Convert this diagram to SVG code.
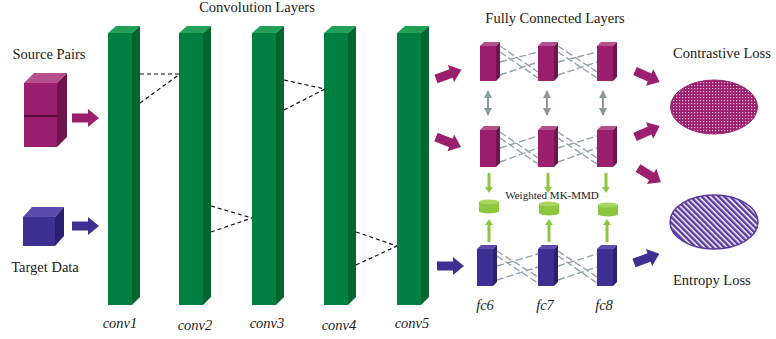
<svg xmlns="http://www.w3.org/2000/svg" xmlns:xlink="http://www.w3.org/1999/xlink" width="776" height="339" viewBox="0 0 776 339">
<style>
text{font-family:"Liberation Serif","Times New Roman",serif;fill:#1a1a1a}
.lbl{font-size:14.5px}
.it{font-style:italic;font-size:14.5px}
.gf{fill:#008040}.gs{fill:#00662f}.gt{fill:#22a055}
.mf{fill:#9b1f6e}.ms{fill:#6e1550}.mt{fill:#b5508f}
.bf{fill:#3e2f92}.bs{fill:#2b2070}.bt{fill:#5b4cae}
.cd{stroke:#111;stroke-width:1.2;stroke-dasharray:4 3;fill:none}
.fd{stroke:#93a3a8;stroke-width:1.4;stroke-dasharray:7 3;fill:none}
.ga{stroke:#8a9aa0;stroke-width:2;marker-start:url(#gh);marker-end:url(#gh)}
.lg{fill:#8dc63f}
</style>
<defs>
<path id="barr" d="M0,-4.5 H16 V-9 L27,0 L16,9 V4.5 H0 Z"/>
<marker id="gh" viewBox="0 0 8 8" refX="7" refY="4" markerWidth="4" markerHeight="4" orient="auto-start-reverse"><path d="M0,0 L8,4 L0,8 Z" fill="#8a9aa0"/></marker>
<pattern id="dots" width="3" height="3" patternUnits="userSpaceOnUse"><rect width="3" height="3" fill="#9b1f6e"/><rect x="1" y="1" width="1.2" height="1.2" fill="#e9bdd6"/></pattern>
<pattern id="stripes" width="4" height="4" patternUnits="userSpaceOnUse" patternTransform="rotate(-45)"><rect width="4" height="4" fill="#fff"/><rect width="2.5" height="4" fill="#5a3aa0"/></pattern>
</defs>

<text class="lbl" x="257" y="12" text-anchor="middle">Convolution Layers</text>
<text class="lbl" x="555" y="23" text-anchor="middle">Fully Connected Layers</text>

<g id="source-pairs">
<text class="lbl" x="49" y="59" text-anchor="middle">Source Pairs</text>
<polygon class="mt" points="24,83 34,73 67,73 57,83"/>
<polygon class="ms" points="57,83 67,73 67,137 57,147"/>
<rect class="mf" x="24" y="83" width="33" height="64"/>
<line x1="24" y1="116" x2="57" y2="116" stroke="#3a0a28" stroke-width="1.5"/>
</g>
<g id="target-data">
<polygon class="bt" points="23,217 32,207 64,207 55,217"/>
<polygon class="bs" points="55,217 64,207 64,236 55,246"/>
<rect class="bf" x="23" y="217" width="32" height="29"/>
<text class="lbl" x="45" y="272" text-anchor="middle">Target Data</text>
</g>

<g id="conv1">
<polygon class="gt" points="108,33 116,26 140,26 132,33"/><polygon class="gs" points="132,33 140,26 140,297 132,305"/><rect class="gf" x="108" y="33" width="24" height="272"/>
<text class="it" x="120" y="328" text-anchor="middle">conv1</text></g>
<g id="conv2">
<polygon class="gt" points="179,33 187,26 211,26 203,33"/><polygon class="gs" points="203,33 211,26 211,297 203,305"/><rect class="gf" x="179" y="33" width="24" height="272"/>
<text class="it" x="195" y="330" text-anchor="middle">conv2</text></g>
<g id="conv3">
<polygon class="gt" points="252,33 260,26 284,26 276,33"/><polygon class="gs" points="276,33 284,26 284,297 276,305"/><rect class="gf" x="252" y="33" width="24" height="272"/>
<text class="it" x="267" y="328" text-anchor="middle">conv3</text></g>
<g id="conv4">
<polygon class="gt" points="324,33 332,26 356,26 348,33"/><polygon class="gs" points="348,33 356,26 356,297 348,305"/><rect class="gf" x="324" y="33" width="24" height="272"/>
<text class="it" x="339" y="330" text-anchor="middle">conv4</text></g>
<g id="conv5">
<polygon class="gt" points="397,33 405,26 429,26 421,33"/><polygon class="gs" points="421,33 429,26 429,297 421,305"/><rect class="gf" x="397" y="33" width="24" height="272"/>
<text class="it" x="412" y="328" text-anchor="middle">conv5</text></g>

<g id="fc-source-a">
<polygon class="mt" points="480,46 484,42 500,42 496,46"/><polygon class="ms" points="496,46 500,42 500,77 496,81"/><rect class="mf" x="480" y="46" width="16" height="35"/>
<polygon class="mt" points="538,46 542,42 558,42 554,46"/><polygon class="ms" points="554,46 558,42 558,77 554,81"/><rect class="mf" x="538" y="46" width="16" height="35"/>
<polygon class="mt" points="597,46 601,42 617,42 613,46"/><polygon class="ms" points="613,46 617,42 617,77 613,81"/><rect class="mf" x="597" y="46" width="16" height="35"/>
</g>
<g id="fc-source-b">
<polygon class="mt" points="480,130 484,126 500,126 496,130"/><polygon class="ms" points="496,130 500,126 500,163 496,167"/><rect class="mf" x="480" y="130" width="16" height="37"/>
<polygon class="mt" points="538,130 542,126 558,126 554,130"/><polygon class="ms" points="554,130 558,126 558,163 554,167"/><rect class="mf" x="538" y="130" width="16" height="37"/>
<polygon class="mt" points="597,130 601,126 617,126 613,130"/><polygon class="ms" points="613,130 617,126 617,163 613,167"/><rect class="mf" x="597" y="130" width="16" height="37"/>
</g>
<g id="fc-target">
<polygon class="bt" points="477,249 481,245 497,245 493,249"/><polygon class="bs" points="493,249 497,245 497,282 493,286"/><rect class="bf" x="477" y="249" width="16" height="37"/>
<polygon class="bt" points="538,249 542,245 558,245 554,249"/><polygon class="bs" points="554,249 558,245 558,282 554,286"/><rect class="bf" x="538" y="249" width="16" height="37"/>
<polygon class="bt" points="597,249 601,245 617,245 613,249"/><polygon class="bs" points="613,249 617,245 617,282 613,286"/><rect class="bf" x="597" y="249" width="16" height="37"/>
<text class="it" x="485" y="310" text-anchor="middle">fc6</text>
<text class="it" x="545" y="310" text-anchor="middle">fc7</text>
<text class="it" x="604" y="310" text-anchor="middle">fc8</text>
</g>

<g id="mk-mmd">
<rect class="lg" x="479" y="202" width="20" height="9"/><ellipse class="lg" cx="489" cy="211" rx="10" ry="2.5"/><ellipse cx="489" cy="202" rx="10" ry="2.5" fill="#a8d65e"/>
<rect class="lg" x="539" y="204" width="20" height="9"/><ellipse class="lg" cx="549" cy="213" rx="10" ry="2.5"/><ellipse cx="549" cy="204" rx="10" ry="2.5" fill="#a8d65e"/>
<rect class="lg" x="598" y="205" width="20" height="9"/><ellipse class="lg" cx="608" cy="214" rx="10" ry="2.5"/><ellipse cx="608" cy="205" rx="10" ry="2.5" fill="#a8d65e"/>
<text x="552" y="199" text-anchor="middle" style="font-size:11px">Weighted MK-MMD</text>
</g>

<g id="contrastive-loss">
<text class="lbl" x="673" y="58">Contrastive Loss</text>
<ellipse cx="714" cy="107" rx="43.5" ry="27" fill="url(#dots)" stroke="#9b1f6e" stroke-width="1"/>
</g>
<g id="entropy-loss">
<ellipse cx="714" cy="222" rx="44" ry="27" fill="url(#stripes)" stroke="#5a3aa0" stroke-width="1.5"/>
<text class="lbl" x="673" y="285">Entropy Loss</text>
</g>

<g id="connectors">
<path class="cd" d="M140,74 L180,74 M140,103 L180,74 M211,206 L252,218 M211,232 L252,218 M284,80 L325,89 M284,110 L325,89 M356,232 L397,246 M356,265 L397,246"/>
<path class="fd" d="M500,46 L538,72 M500,62 L538,52 M500,75 L538,62 M500,52 L538,78 M558,46 L597,72 M558,62 L597,52 M558,75 L597,62 M558,52 L597,78"/>
<path class="fd" d="M500,132 L538,158 M500,148 L538,136 M500,162 L538,148 M500,138 L538,164 M558,132 L597,158 M558,148 L597,136 M558,162 L597,148 M558,138 L597,164"/>
<path class="fd" d="M497,251 L538,277 M497,266 L538,254 M497,280 L538,267 M497,256 L538,283 M558,251 L597,277 M558,266 L597,254 M558,280 L597,267 M558,256 L597,283"/>
<line class="ga" x1="488" y1="91" x2="488" y2="115"/>
<line class="ga" x1="547" y1="91" x2="547" y2="115"/>
<line class="ga" x1="603" y1="91" x2="603" y2="115"/>
<g class="lg">
<rect x="487.5" y="173" width="3" height="14"/><polygon points="485,187 493,187 489,193"/>
<rect x="546.5" y="173" width="3" height="14"/><polygon points="544,187 552,187 548,193"/>
<rect x="604.5" y="173" width="3" height="14"/><polygon points="602,187 610,187 606,193"/>
<rect x="487.5" y="225" width="3" height="17"/><polygon points="485,225 493,225 489,219"/>
<rect x="547.5" y="225" width="3" height="17"/><polygon points="545,225 553,225 549,219"/>
<rect x="605.5" y="225" width="3" height="17"/><polygon points="603,225 611,225 607,219"/>
</g>
<use href="#barr" fill="#9b1f6e" transform="translate(72,118)"/>
<use href="#barr" fill="#3e2f92" transform="translate(72,226)"/>
<use href="#barr" fill="#9b1f6e" transform="translate(436,79) rotate(-20)"/>
<use href="#barr" fill="#9b1f6e" transform="translate(436,137) rotate(22)"/>
<use href="#barr" fill="#3e2f92" transform="translate(437,266)"/>
<use href="#barr" fill="#9b1f6e" transform="translate(635,71) rotate(24)"/>
<use href="#barr" fill="#9b1f6e" transform="translate(635,137) rotate(-24)"/>
<use href="#barr" fill="#9b1f6e" transform="translate(638,168) rotate(32)"/>
<use href="#barr" fill="#3e2f92" transform="translate(634,263) rotate(-20)"/>
</g>
</svg>
